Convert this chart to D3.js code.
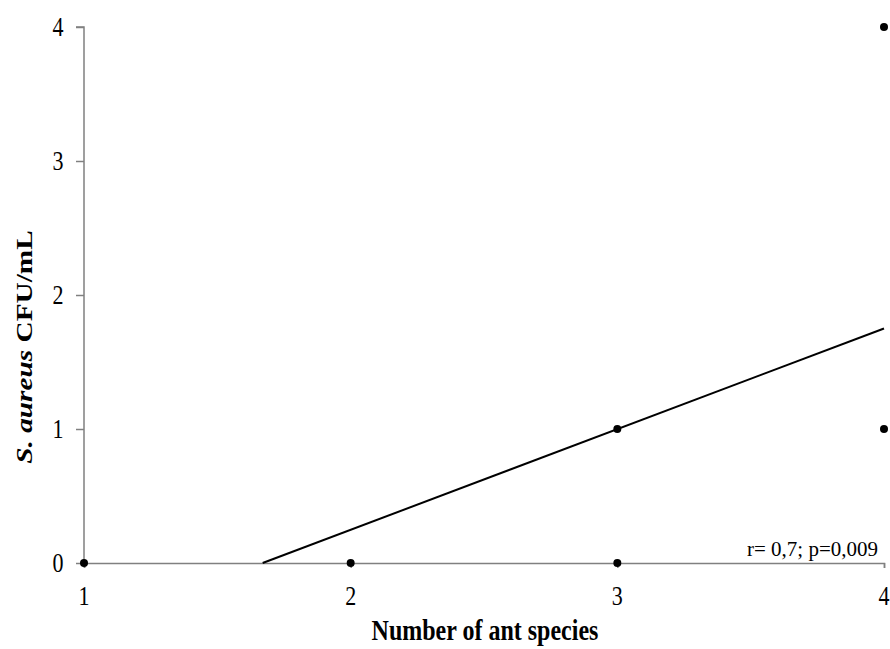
<!DOCTYPE html>
<html>
<head>
<meta charset="utf-8">
<script src="https://cdn.jsdelivr.net/npm/d3@7"></script>
<style>
  body { margin: 0; background: #fff; }
  text { font-family: "Liberation Serif", "Times New Roman", serif; fill: #000; }
</style>
</head>
<body>
<svg id="chart" width="890" height="649"></svg>
<script>
// data
const xVals = [1, 2, 3, 3, 4, 4];
const yVals = [0, 0, 0, 1, 1, 4];
const trendX = [1.67, 4];
const trendY = [0, 1.75];
const xTicks = [1, 2, 3, 4];
const yTicks = [0, 1, 2, 3, 4];
const note = "r= 0,7; p=0,009";

const svg = d3.select("#chart");
const x = d3.scaleLinear().domain([1, 4]).range([84, 884]);
const y = d3.scaleLinear().domain([0, 4]).range([563, 27]);

// the source picture is a bit stretched vertically, so text is too
const stretch = 1.25;

// axes (lines only, labels drawn below)
const yAxis = svg.append("g")
  .attr("transform", `translate(${x(1)},0)`)
  .call(d3.axisLeft(y).tickValues(yTicks).tickSize(8).tickFormat(""));
const xAxis = svg.append("g")
  .attr("transform", `translate(0,${y(0)})`)
  .call(d3.axisBottom(x).tickValues(xTicks).tickSize(5).tickFormat(""));

[xAxis, yAxis].forEach(a => {
  a.select(".domain").attr("stroke", "#808080").attr("stroke-width", 1.5);
  a.selectAll(".tick line").attr("stroke", "#808080").attr("stroke-width", 1.5);
});
yAxis.select(".domain").attr("d", `M-8,${y(4)}H0V${y(0)}`);

// tick labels
svg.append("g").selectAll("text")
  .data(xTicks)
  .enter()
  .append("text")
  .attr("transform", d => `translate(${x(d)},605) scale(1,${stretch})`)
  .attr("text-anchor", "middle")
  .style("font-size", "22px")
  .text(d => d);

svg.append("g").selectAll("text")
  .data(yTicks)
  .enter()
  .append("text")
  .attr("transform", d => `translate(58,${y(d) + 9}) scale(1,${stretch})`)
  .attr("text-anchor", "middle")
  .style("font-size", "22px")
  .text(d => d);

// trend line
svg.append("line")
  .attr("x1", x(trendX[0])).attr("y1", y(trendY[0]))
  .attr("x2", x(trendX[1])).attr("y2", y(trendY[1]))
  .attr("stroke", "#000").attr("stroke-width", 2);

// points
svg.append("g").selectAll("circle")
  .data(xVals.map((v, i) => ({ x: v, y: yVals[i] })))
  .enter()
  .append("circle")
  .attr("cx", d => x(d.x))
  .attr("cy", d => y(d.y))
  .attr("r", 4)
  .attr("fill", "#000");

// annotation
svg.append("text")
  .attr("x", 878).attr("y", 556)
  .attr("text-anchor", "end")
  .style("font-size", "21px")
  .text(note);

// axis titles
svg.append("text")
  .attr("transform", `translate(485,640) scale(1,1.2)`)
  .attr("text-anchor", "middle")
  .style("font-size", "24px").style("font-weight", "bold")
  .text("Number  of ant species");

const yt = svg.append("text")
  .attr("transform", `translate(32,347) rotate(-90) scale(1.22,1)`)
  .attr("text-anchor", "middle")
  .style("font-size", "24px").style("font-weight", "bold");
yt.append("tspan").style("font-style", "italic").text("S. aureus");
yt.append("tspan").text(" CFU/mL");
</script>
</body>
</html>
